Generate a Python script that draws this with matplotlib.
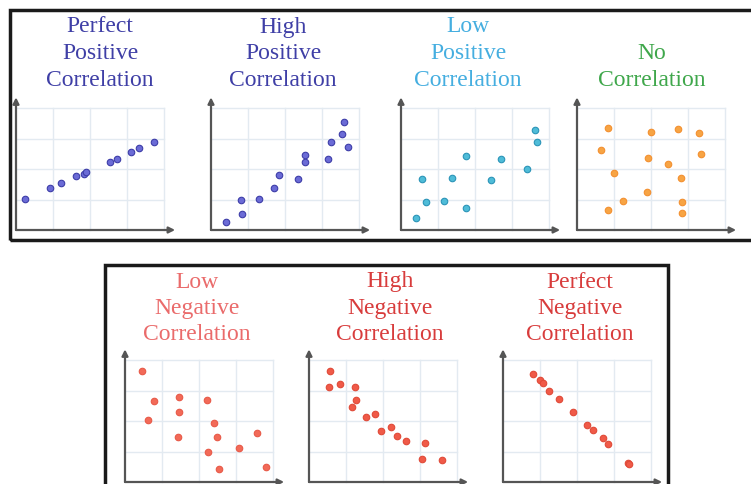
import matplotlib
matplotlib.use("Agg")
from matplotlib import pyplot as plt
from matplotlib.patches import Rectangle

W, H = 751, 484

# panel titles, one list of lines per panel
titles = [
    ["Perfect", "Positive", "Correlation"],
    ["High", "Positive", "Correlation"],
    ["Low", "Positive", "Correlation"],
    ["No", "Correlation"],
    ["Low", "Negative", "Correlation"],
    ["High", "Negative", "Correlation"],
    ["Perfect", "Negative", "Correlation"],
]

perfect_pos_x = [0.24, 0.92, 1.22, 1.63, 1.85, 1.90, 2.53, 2.72, 3.10, 3.32, 3.72]
perfect_pos_y = [1.02, 1.38, 1.54, 1.77, 1.84, 1.90, 2.23, 2.33, 2.56, 2.69, 2.89]

high_pos_x = [0.41, 0.84, 0.82, 1.30, 1.71, 1.85, 2.34, 2.55, 2.55, 3.15, 3.23, 3.53, 3.59, 3.70]
high_pos_y = [0.26, 0.52, 0.98, 1.02, 1.38, 1.80, 1.67, 2.46, 2.23, 2.33, 2.89, 3.15, 3.54, 2.72]

low_pos_x = [0.41, 0.68, 0.57, 1.17, 1.39, 1.77, 1.77, 2.42, 2.69, 3.40, 3.61, 3.67]
low_pos_y = [0.39, 0.92, 1.67, 0.95, 1.70, 0.72, 2.43, 1.64, 2.33, 2.00, 3.28, 2.89]

no_corr_x = [0.84, 2.01, 2.72, 3.29, 0.65, 3.34, 1.93, 2.47, 1.01, 2.80, 1.90, 1.25, 2.83, 0.84, 2.83]
no_corr_y = [3.34, 3.21, 3.31, 3.18, 2.62, 2.49, 2.36, 2.16, 1.87, 1.70, 1.25, 0.95, 0.92, 0.66, 0.56]

low_neg_x = [0.46, 0.78, 1.46, 2.22, 1.46, 0.62, 2.41, 1.43, 2.49, 3.57, 3.08, 2.24, 2.54, 3.81]
low_neg_y = [3.63, 2.67, 2.80, 2.70, 2.30, 2.03, 1.93, 1.47, 1.47, 1.60, 1.10, 0.97, 0.43, 0.50]

high_neg_x = [0.57, 0.54, 0.84, 1.24, 1.27, 1.16, 1.54, 1.78, 1.95, 2.22, 2.38, 2.62, 3.14, 3.05, 3.59]
high_neg_y = [3.63, 3.13, 3.20, 3.13, 2.70, 2.47, 2.13, 2.23, 1.67, 1.80, 1.50, 1.33, 1.27, 0.77, 0.73]

perfect_neg_x = [0.81, 1.00, 1.08, 1.24, 1.51, 1.89, 2.27, 2.43, 2.70, 2.84, 3.38, 3.41]
perfect_neg_y = [3.53, 3.33, 3.23, 3.00, 2.73, 2.30, 1.87, 1.70, 1.43, 1.23, 0.63, 0.60]

xs = [perfect_pos_x, high_pos_x, low_pos_x, no_corr_x, low_neg_x, high_neg_x, perfect_neg_x]
ys = [perfect_pos_y, high_pos_y, low_pos_y, no_corr_y, low_neg_y, high_neg_y, perfect_neg_y]

title_colors = ["#3f3fa6", "#3f3fa6", "#45aee0", "#3fa74b", "#ea6b6b", "#d83c3c", "#d83c3c"]
dot_colors = ["#6b6bd6", "#6b6bd6", "#4fbcd8", "#f7a444", "#f26a58", "#f05a48", "#f05a48"]
dot_edges = ["#3d3da8", "#3d3da8", "#2b94b8", "#f39030", "#e85a48", "#e04a38", "#e04a38"]

# pixel origin of each small plot, title centre x and last title line y
origins = [(16, 230), (211, 230), (401, 230), (577, 230), (125, 482), (309, 482), (503, 482)]
title_cx = [100, 283, 468, 652, 197, 390, 580]
title_last = [80, 80, 80, 80, 335, 335, 335]
LINE = 26.5

UX, UY = 37, 30.5
LO, HI = -0.4, 4.6

fig = plt.figure(figsize=(W / 100, H / 100), dpi=100)

# frames
fig.patches.append(Rectangle((10 / W, 1 - 240 / H), 745 / W, 230 / H, transform=fig.transFigure,
                             fill=False, lw=2.5, ec="#1a1a1a"))
fig.patches.append(Rectangle((105 / W, -0.02), 563 / W, 1 - 265 / H + 0.02, transform=fig.transFigure,
                             fill=False, lw=2.5, ec="#1a1a1a"))

for i in range(7):
    ox, oy = origins[i]
    left = (ox + LO * UX) / W
    bottom = 1 - (oy - LO * UY) / H
    ax = fig.add_axes([left, bottom, (HI - LO) * UX / W, (HI - LO) * UY / H])
    ax.set_xlim(LO, HI)
    ax.set_ylim(LO, HI)
    ax.axis("off")
    for g in range(1, 5):
        ax.plot([g, g], [0, 4], color="#e3eaf1", lw=1, zorder=1)
        ax.plot([0, 4], [g, g], color="#e3eaf1", lw=1, zorder=1)
    arrow = dict(arrowstyle="-|>", color="#555555", lw=1.6, mutation_scale=9, shrinkA=0, shrinkB=0)
    ax.annotate("", xy=(0, 4.35), xytext=(0, 0), arrowprops=arrow)
    ax.annotate("", xy=(4.3, 0), xytext=(0, 0), arrowprops=arrow)
    ax.scatter(xs[i], ys[i], s=22, c=dot_colors[i], edgecolors=dot_edges[i], linewidths=0.8, zorder=3)

    lines = titles[i]
    for k, line in enumerate(lines):
        py = title_last[i] - (len(lines) - 1 - k) * LINE
        fig.text(title_cx[i] / W, 1 - py / H, line, ha="center", va="center",
                 fontsize=17, color=title_colors[i], family="Liberation Serif")

fig.savefig("out.png", dpi=100)
